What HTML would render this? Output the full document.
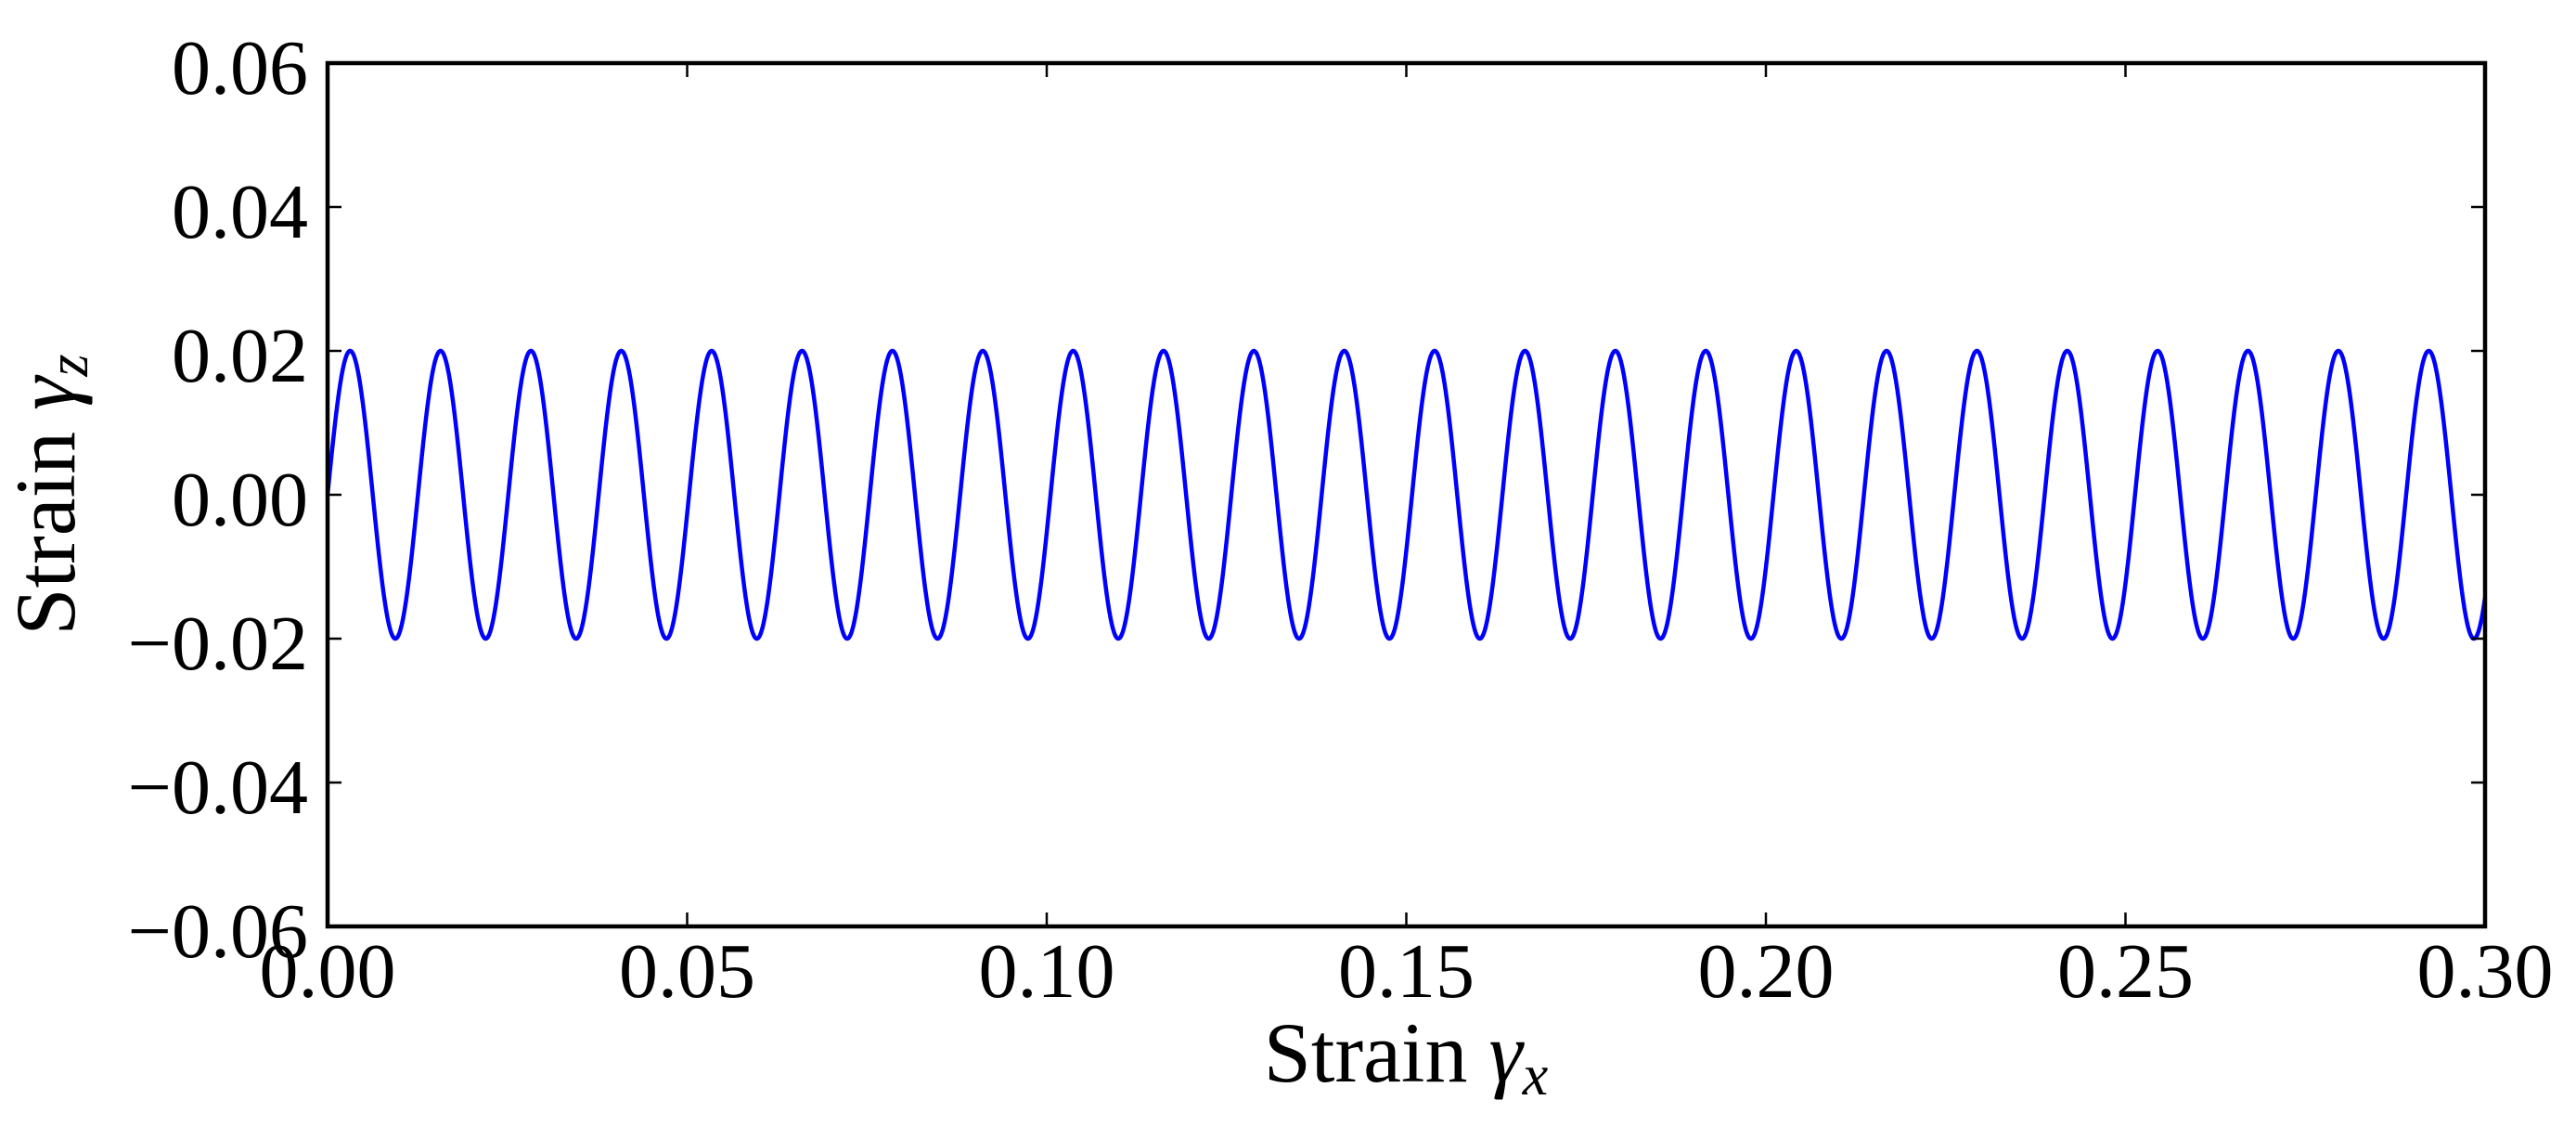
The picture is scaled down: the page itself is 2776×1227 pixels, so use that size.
<!DOCTYPE html>
<html><head><meta charset="utf-8"><style>
html,body{margin:0;padding:0;background:#fff;}
svg{display:block;}
text{font-family:"Liberation Serif",serif;fill:#000;}
</style></head><body>
<svg id="s" width="2776" height="1227" viewBox="0 0 2776 1227" xmlns="http://www.w3.org/2000/svg">
<rect width="2776" height="1227" fill="#fff"/>
<path id="curve" fill="none" stroke="#0000ff" stroke-width="4.5" d=""/>
<g id="ticks" stroke="#000" stroke-width="2.5"></g>
<rect x="353" y="68" width="2325" height="930" fill="none" stroke="#000" stroke-width="4.5"/>
<g font-size="84" text-anchor="end">
<text x="332" y="101">0.06</text>
<text x="332" y="256">0.04</text>
<text x="332" y="411">0.02</text>
<text x="332" y="566">0.00</text>
<text x="332" y="721">−0.02</text>
<text x="332" y="876">−0.04</text>
<text x="332" y="1031">−0.06</text>
</g>
<g font-size="84" text-anchor="middle" id="xl"></g>
<text x="1515" y="1165" font-size="92" text-anchor="middle">Strain <tspan font-style="italic">γ</tspan><tspan font-style="italic" font-size="62" dy="14">x</tspan></text>
<text transform="translate(80,533) rotate(-90)" font-size="92" text-anchor="middle">Strain <tspan font-style="italic">γ</tspan><tspan font-style="italic" font-size="62" dy="14">z</tspan></text>
</svg>
<script>
var L=353,R=2678,T=68,B=998,W=R-L,C=(T+B)/2;
var d="";
for(var i=0;i<=6000;i++){var x=0.3*i/6000;var y=0.02*Math.sin(500*x);
var px=L+x/0.3*W,py=C-y/0.06*(B-T)/2;d+=(i?"L":"M")+px.toFixed(2)+" "+py.toFixed(2);}
document.getElementById("curve").setAttribute("d",d);
var g=document.getElementById("ticks"),t="";
for(var k=0;k<=6;k++){var x=L+W*k/6;t+='<line x1="'+x+'" y1="'+B+'" x2="'+x+'" y2="'+(B-15)+'"/><line x1="'+x+'" y1="'+T+'" x2="'+x+'" y2="'+(T+15)+'"/>';}
for(var k=0;k<=6;k++){var y=T+(B-T)*k/6;t+='<line x1="'+L+'" y1="'+y+'" x2="'+(L+15)+'" y2="'+y+'"/><line x1="'+R+'" y1="'+y+'" x2="'+(R-15)+'" y2="'+y+'"/>';}
g.innerHTML=t;
var xl=document.getElementById("xl"),labs=["0.00","0.05","0.10","0.15","0.20","0.25","0.30"],s="";
for(var k=0;k<=6;k++){s+='<text x="'+(L+W*k/6)+'" y="1074">'+labs[k]+'</text>';}
xl.innerHTML=s;
</script>
</body></html>
